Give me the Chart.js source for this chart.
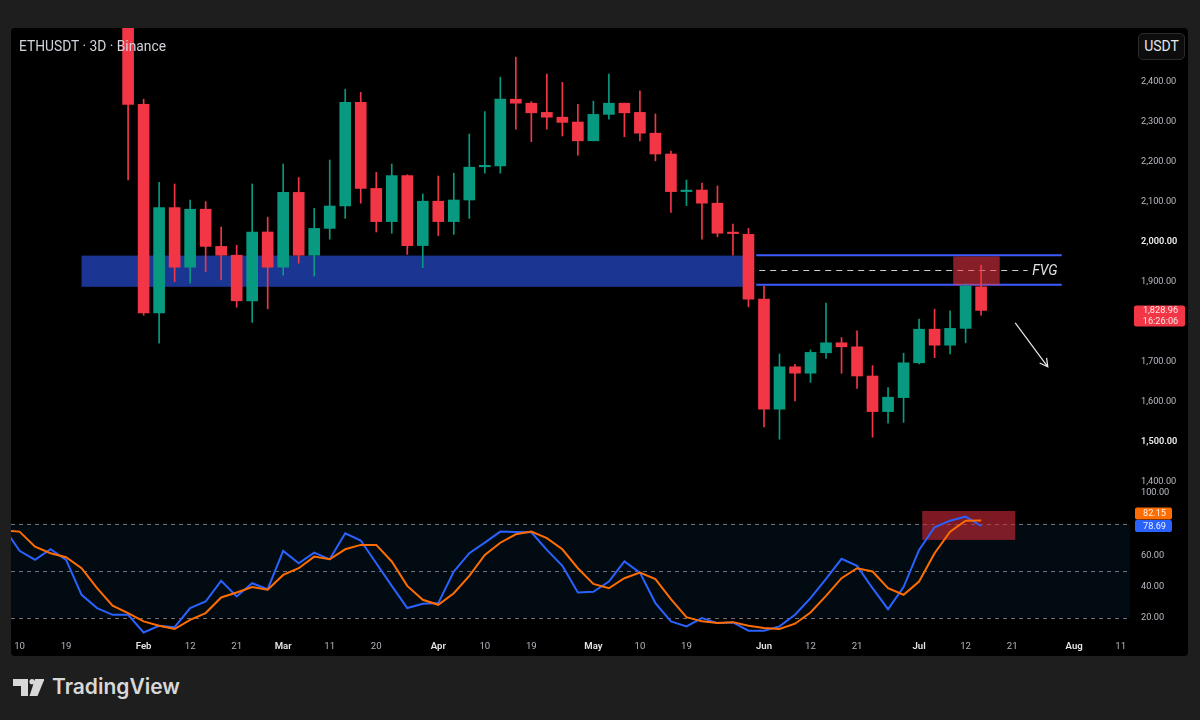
<!DOCTYPE html>
<html>
<head>
<meta charset="utf-8">
<title>ETHUSDT 3D</title>
<script src="https://cdn.jsdelivr.net/npm/chart.js@4.4.1/dist/chart.umd.min.js"></script>
<style>
  html, body { margin: 0; padding: 0; }
  body { width: 1200px; height: 720px; background: #1e1e1e; position: relative; overflow: hidden; font-family: Roboto, "Noto Sans", sans-serif; }
  #frame { position: absolute; left: 11px; top: 28px; width: 1177px; height: 628px; background: #000; border-radius: 4px; overflow: hidden; }
  #chart { position: absolute; left: 0; top: 0; }
  #symbol { position: absolute; left: 8px; top: 10px; color: #d1d4dc; font-size: 13.8px; pointer-events: none; }
  #unit { position: absolute; left: 1127px; top: 5px; width: 45px; height: 25px; border: 1px solid #2c2c2c; border-radius: 5px; background: #0d0d0d; color: #e6e6e6; font-size: 14px; line-height: 25px; text-align: center; }
  #brand { position: absolute; left: 13px; top: 675px; height: 24px; display: flex; align-items: center; gap: 8px; color: #d8d8d8; font-family: Inter, Roboto, sans-serif; font-weight: 600; font-size: 21px; line-height: 24px; }
</style>
</head>
<body>
<div id="frame">
  <canvas id="chart" width="1177" height="628"></canvas>
  <div id="symbol">ETHUSDT · 3D · Binance</div>
  <div id="unit">USDT</div>
</div>
<div id="brand">
  <svg width="31" height="17" viewBox="0 0 31 17">
    <path d="M0 0H15V17H8V7H0Z" fill="#d8d8d8"/>
    <circle cx="19" cy="2.7" r="2.6" fill="#d8d8d8"/>
    <path d="M22 0H31.5L24.5 17H16.5Z" fill="#d8d8d8"/>
  </svg>
  <span>TradingView</span>
</div>
<script>
// 3D candles, one date per candle
const dates = [
  'Jan 7', 'Jan 10', 'Jan 13', 'Jan 16', 'Jan 19', 'Jan 22', 'Jan 25', 'Jan 28', 'Jan 31',
  'Feb 3', 'Feb 6', 'Feb 9', 'Feb 12', 'Feb 15', 'Feb 18', 'Feb 21', 'Feb 24', 'Feb 27',
  'Mar 2', 'Mar 5', 'Mar 8', 'Mar 11', 'Mar 14', 'Mar 17', 'Mar 20', 'Mar 23', 'Mar 26', 'Mar 29',
  'Apr 1', 'Apr 4', 'Apr 7', 'Apr 10', 'Apr 13', 'Apr 16', 'Apr 19', 'Apr 22', 'Apr 25', 'Apr 28',
  'May 1', 'May 4', 'May 7', 'May 10', 'May 13', 'May 16', 'May 19', 'May 22', 'May 25', 'May 28', 'May 31',
  'Jun 3', 'Jun 6', 'Jun 9', 'Jun 12', 'Jun 15', 'Jun 18', 'Jun 21', 'Jun 24', 'Jun 27', 'Jun 30',
  'Jul 3', 'Jul 6', 'Jul 9', 'Jul 12', 'Jul 15', 'Jul 18', 'Jul 21', 'Jul 24', 'Jul 27', 'Jul 30',
  'Aug 2', 'Aug 5', 'Aug 8', 'Aug 11'
];

// OHLC (candles before Jan 31 sit above the visible range)
const opens = [null, null, null, null, null, null, null, null,
  2620, 2344, 1823, 2086, 1937, 2082, 1989, 1967, 1853, 2025,
  1937, 2124, 1967, 2034, 2090, 2349, 2134, 2051, 2166, 1991,
  2102, 2051, 2105, 2188, 2190, 2357, 2347, 2324, 2312, 2300,
  2253, 2319, 2347, 2324, 2272, 2220, 2126, 2130, 2097, 2023,
  2019, 1857, 1582, 1688, 1672, 1723, 1748, 1738, 1665, 1576,
  1611, 1698, 1782, 1742, 1784, 1888];
const highs = [null, null, null, null, null, null, null, null,
  2650, 2357, 2149, 2145, 2105, 2101, 2037, 1992, 2145, 2062,
  2195, 2161, 2084, 2205, 2382, 2374, 2174, 2195, 2168, 2120,
  2165, 2172, 2270, 2326, 2412, 2462, 2351, 2420, 2399, 2344,
  2352, 2420, 2347, 2378, 2320, 2227, 2155, 2147, 2140, 2045,
  2034, 1890, 1720, 1694, 1730, 1847, 1761, 1778, 1691, 1636,
  1722, 1807, 1832, 1828, 1895, 1942];
const lows = [null, null, null, null, null, null, null, null,
  2155, 1817, 1747, 1901, 1897, 1926, 1905, 1837, 1799, 1833,
  1917, 1947, 1915, 2007, 2059, 2097, 2025, 2022, 1969, 1936,
  2016, 2019, 2059, 2172, 2172, 2282, 2251, 2282, 2265, 2217,
  2253, 2307, 2263, 2253, 2203, 2074, 2091, 2007, 2013, 1967,
  1838, 1538, 1507, 1603, 1649, 1709, 1672, 1634, 1512, 1547,
  1549, 1695, 1711, 1720, 1748, 1817];
const closes = [null, null, null, null, null, null, null, null,
  2344, 1823, 2086, 1937, 2082, 1989, 1967, 1853, 2025, 1937,
  2124, 1967, 2034, 2090, 2349, 2134, 2051, 2166, 1991, 2102,
  2051, 2105, 2187, 2191, 2357, 2347, 2323, 2312, 2299, 2253,
  2319, 2347, 2323, 2272, 2220, 2126, 2129, 2097, 2022, 2021,
  1857, 1582, 1688, 1672, 1724, 1748, 1738, 1665, 1576, 1612,
  1698, 1782, 1742, 1784, 1890, 1828.96];

// Stoch RSI
const stochK = [77.5, 62.8, 57, 63.8, 57, 34.7, 26.2, 21.9, 21.9, 10.6,
  14.9, 14, 26.2, 30.4, 43.6, 33.6, 42.1, 38.3, 62.8, 54.9,
  61.7, 57.4, 74, 69.4, 54.9, 40.4, 26.2, 28.9, 29.4, 49.6,
  61.3, 68.1, 75.1, 74.9, 74.7, 63.4, 53.2, 36.2, 36.6, 43.2,
  56, 48.9, 29.4, 17.7, 14.5, 19.8, 16.6, 17, 11.7, 11.7,
  14.5, 21.9, 32.6, 44.9, 57.7, 53.2, 38.9, 25.5, 39.6, 63.4,
  77.9, 82.1, 84.7, 78.69];
const stochD = [75.8, 75.1, 65.5, 61.3, 58.7, 51.7, 38.9, 27.7, 23, 17.7,
  14.9, 12.8, 18.7, 23, 33, 36.2, 39.6, 37.9, 47.4, 51.7,
  59.1, 57.4, 63.8, 66.6, 66.6, 56, 40.4, 31.5, 28.3, 35.7,
  46.8, 60.2, 68, 73.4, 75.1, 70.9, 63.8, 51.7, 41.7, 38.9,
  45.3, 48.9, 44.7, 31.9, 20.4, 17.7, 16.6, 17.2, 14.9, 13.4,
  12.8, 16.2, 23.4, 34, 45.3, 51.7, 49.6, 38.9, 34.7, 43.2,
  61.3, 75.1, 82.1, 82.15];

// axis ticks
const tickDates = ['Jan 10', 'Jan 19', 'Feb 3', 'Feb 12', 'Feb 21', 'Mar 2', 'Mar 11', 'Mar 20', 'Apr 1', 'Apr 10', 'Apr 19',
  'May 1', 'May 10', 'May 19', 'Jun 3', 'Jun 12', 'Jun 21', 'Jul 3', 'Jul 12', 'Jul 21', 'Aug 2', 'Aug 11'];
const tickLabels = ['10', '19', 'Feb', '12', '21', 'Mar', '11', '20', 'Apr', '10', '19',
  'May', '10', '19', 'Jun', '12', '21', 'Jul', '12', '21', 'Aug', '11'];
const priceTicks = [1400, 1500, 1600, 1700, 1800, 1900, 2000, 2100, 2200, 2300, 2400];
const stochTicks = [20, 40, 60, 100];
const stochLevels = [80, 50, 20];

// drawings (candle index / price)
const supplyZone = { from: 5, to: 48, low: 1888, high: 1966 };
const fvgZone = { from: 48.5, to: 68.2, low: 1893, high: 1967, dashTo: 66, labelAt: 66.3 };
const tapBox = { from: 61.2, to: 64.2, low: 1892, high: 1964 };
const arrowLine = { from: [65.2, 1798], to: [67.3, 1688] };
const stochBox = { from: 59.2, to: 65.2, low: 69.8, high: 88.3 };
const countdown = '16:26:06';

const GREEN = '#089981';
const RED = '#f23645';
const FONT = 'Roboto, "Noto Sans", sans-serif';
const AXIS_SIZE = 9.2;

const candleIdx = opens.map((o, k) => k).filter(k => opens[k] !== null);
const candleColors = candleIdx.map(k => closes[k] >= opens[k] ? GREEN : RED);
const wickData = candleIdx.map(k => ({ x: k, y: [lows[k], highs[k]] }));
const bodyData = candleIdx.map(k => ({ x: k, y: [Math.min(opens[k], closes[k]), Math.max(opens[k], closes[k])] }));
const kData = stochK.map((v, k) => ({ x: k, y: v }));
const dData = stochD.map((v, k) => ({ x: k, y: v }));

const labelFor = (k) => tickLabels[tickDates.indexOf(dates[k])] || '';
const isMonth = (s) => /[A-Za-z]/.test(s);
const tickVal = (c) => (c && c.tick ? c.tick.value : null);
const fmtPrice = (v) => v.toLocaleString('en-US', { minimumFractionDigits: 2, maximumFractionDigits: 2 });
const isRound = (c) => tickVal(c) !== null && tickVal(c) % 500 === 0;

function fillBox(ctx, x, ys, b, color) {
  const l = x.getPixelForValue(b.from), r = x.getPixelForValue(b.to);
  const t = ys.getPixelForValue(b.high), btm = ys.getPixelForValue(b.low);
  ctx.fillStyle = color;
  ctx.fillRect(l, t, r - l, btm - t);
}

function hLine(ctx, x0, x1, py) {
  ctx.beginPath();
  ctx.moveTo(x0, py);
  ctx.lineTo(x1, py);
  ctx.stroke();
}

function tag(ctx, left, top, w, h, bg, lines, fg) {
  ctx.fillStyle = bg;
  ctx.beginPath();
  ctx.roundRect(left, top, w, h, 2);
  ctx.fill();
  ctx.fillStyle = fg;
  ctx.font = AXIS_SIZE + 'px ' + FONT;
  ctx.textAlign = 'center';
  ctx.textBaseline = 'middle';
  lines.forEach((s, i) => ctx.fillText(s, left + w / 2 + 1, top + h / (2 * lines.length) * (2 * i + 1) + 0.5));
}

const overlay = {
  id: 'overlay',
  beforeDatasetsDraw(chart) {
    const { ctx, chartArea: a, scales: { x, y, y2 } } = chart;
    ctx.save();
    // stoch band + levels
    const p80 = y2.getPixelForValue(80), p20 = y2.getPixelForValue(20);
    ctx.fillStyle = 'rgba(33,150,243,0.075)';
    ctx.fillRect(a.left, p80, a.right - a.left, p20 - p80);
    ctx.strokeStyle = 'rgba(120,123,134,0.9)';
    ctx.lineWidth = 1;
    ctx.setLineDash([4, 4]);
    stochLevels.forEach(v => hLine(ctx, a.left, a.right, Math.round(y2.getPixelForValue(v)) + 0.5));
    ctx.setLineDash([]);
    fillBox(ctx, x, y2, stochBox, 'rgba(200,40,55,0.62)');

    // supply zone
    fillBox(ctx, x, y, supplyZone, '#1b3593');

    // FVG
    const fl = x.getPixelForValue(fvgZone.from), fr = x.getPixelForValue(fvgZone.to);
    ctx.strokeStyle = '#3d5cff';
    ctx.lineWidth = 2;
    hLine(ctx, fl, fr, y.getPixelForValue(fvgZone.high));
    hLine(ctx, fl, fr, y.getPixelForValue(fvgZone.low));
    const mid = Math.round(y.getPixelForValue((fvgZone.low + fvgZone.high) / 2)) + 0.5;
    ctx.strokeStyle = 'rgba(230,230,230,0.9)';
    ctx.lineWidth = 1;
    ctx.setLineDash([6, 5]);
    hLine(ctx, fl + 3, x.getPixelForValue(fvgZone.dashTo), mid);
    ctx.setLineDash([]);
    ctx.fillStyle = '#e2e2e2';
    ctx.font = 'italic 14px ' + FONT;
    ctx.textAlign = 'left';
    ctx.textBaseline = 'middle';
    ctx.fillText('FVG', x.getPixelForValue(fvgZone.labelAt), mid + 1);
    fillBox(ctx, x, y, tapBox, 'rgba(242,54,69,0.55)');

    // arrow
    const ax0 = x.getPixelForValue(arrowLine.from[0]), ay0 = y.getPixelForValue(arrowLine.from[1]);
    const ax1 = x.getPixelForValue(arrowLine.to[0]), ay1 = y.getPixelForValue(arrowLine.to[1]);
    const ang = Math.atan2(ay1 - ay0, ax1 - ax0);
    ctx.strokeStyle = '#e8e8e8';
    ctx.lineWidth = 1.2;
    ctx.beginPath();
    ctx.moveTo(ax0, ay0);
    ctx.lineTo(ax1, ay1);
    ctx.moveTo(ax1 - 9 * Math.cos(ang - 0.5), ay1 - 9 * Math.sin(ang - 0.5));
    ctx.lineTo(ax1, ay1);
    ctx.lineTo(ax1 - 9 * Math.cos(ang + 0.5), ay1 - 9 * Math.sin(ang + 0.5));
    ctx.stroke();
    ctx.restore();
  },
  afterDraw(chart) {
    const { ctx, scales: { y, y2 } } = chart;
    ctx.save();
    const left = y.left + 4;
    const last = closes[closes.length - 1];
    const py = y.getPixelForValue(last);
    tag(ctx, left, py - 5, 51, 21, RED, [fmtPrice(last), countdown], '#ffe4e6');
    const kLast = stochK[stochK.length - 1], dLast = stochD[stochD.length - 1];
    const kp = y2.getPixelForValue(kLast);
    tag(ctx, left + 1, kp - 6, 37, 12, '#2962ff', [kLast.toFixed(2)], '#e8eeff');
    tag(ctx, left + 1, kp - 18.5, 37, 12, '#ff6d00', [dLast.toFixed(2)], '#fff1e6');
    ctx.restore();
  }
};

const noPad = (a) => { a.paddingTop = 0; a.paddingBottom = 0; a.paddingLeft = 0; a.paddingRight = 0; };

new Chart(document.getElementById('chart'), {
  type: 'bar',
  data: {
    datasets: [
      { type: 'bar', data: wickData, backgroundColor: candleColors, barThickness: 1, grouped: false, order: 3, yAxisID: 'y' },
      { type: 'bar', data: bodyData, backgroundColor: candleColors, barThickness: 11, minBarLength: 1.5, grouped: false, order: 2, yAxisID: 'y' },
      { type: 'line', data: kData, borderColor: '#2962ff', borderWidth: 2, pointRadius: 0, tension: 0, order: 1, yAxisID: 'y2' },
      { type: 'line', data: dData, borderColor: '#ff6d00', borderWidth: 2, pointRadius: 0, tension: 0, order: 0, yAxisID: 'y2' }
    ]
  },
  options: {
    responsive: false,
    animation: false,
    devicePixelRatio: 1,
    events: [],
    layout: { padding: 0, autoPadding: false },
    plugins: { legend: { display: false }, tooltip: { enabled: false } },
    scales: {
      x: {
        type: 'linear', position: 'bottom', min: 0.45, max: 72.6, offset: false,
        grid: { display: false, drawTicks: false }, border: { display: false },
        afterBuildTicks: (a) => { a.ticks = tickDates.map(d => ({ value: dates.indexOf(d) })); },
        afterFit: (a) => { a.height = 19; noPad(a); },
        ticks: {
          autoSkip: false, maxRotation: 0, padding: 4,
          callback: (v) => labelFor(v),
          color: (c) => isMonth(labelFor(tickVal(c))) ? '#e6e6e6' : '#b2b5be',
          font: (c) => ({ family: FONT, size: 9.6, weight: isMonth(labelFor(tickVal(c))) ? '600' : '400' })
        }
      },
      y: {
        type: 'linear', position: 'right', stack: 'panes', stackWeight: 460, min: 1385, max: 2535,
        grid: { display: false, drawTicks: false }, border: { display: false },
        afterBuildTicks: (a) => { a.ticks = priceTicks.map(v => ({ value: v })); },
        afterFit: (a) => { a.width = 58; noPad(a); },
        ticks: {
          autoSkip: false, padding: 11,
          callback: (v) => fmtPrice(v),
          color: (c) => isRound(c) ? '#f0f0f0' : '#b8bcc4',
          font: (c) => ({ family: FONT, size: AXIS_SIZE, weight: isRound(c) ? '600' : '400' })
        }
      },
      y2: {
        type: 'linear', position: 'right', stack: 'panes', stackWeight: 149, min: 7.7, max: 103,
        grid: { display: false, drawTicks: false }, border: { display: false },
        afterBuildTicks: (a) => { a.ticks = stochTicks.map(v => ({ value: v })); },
        afterFit: (a) => { a.width = 58; noPad(a); },
        ticks: {
          autoSkip: false, padding: 11,
          callback: (v) => v.toFixed(2),
          color: '#b8bcc4',
          font: { family: FONT, size: AXIS_SIZE }
        }
      }
    }
  },
  plugins: [overlay]
});
</script>
</body>
</html>
